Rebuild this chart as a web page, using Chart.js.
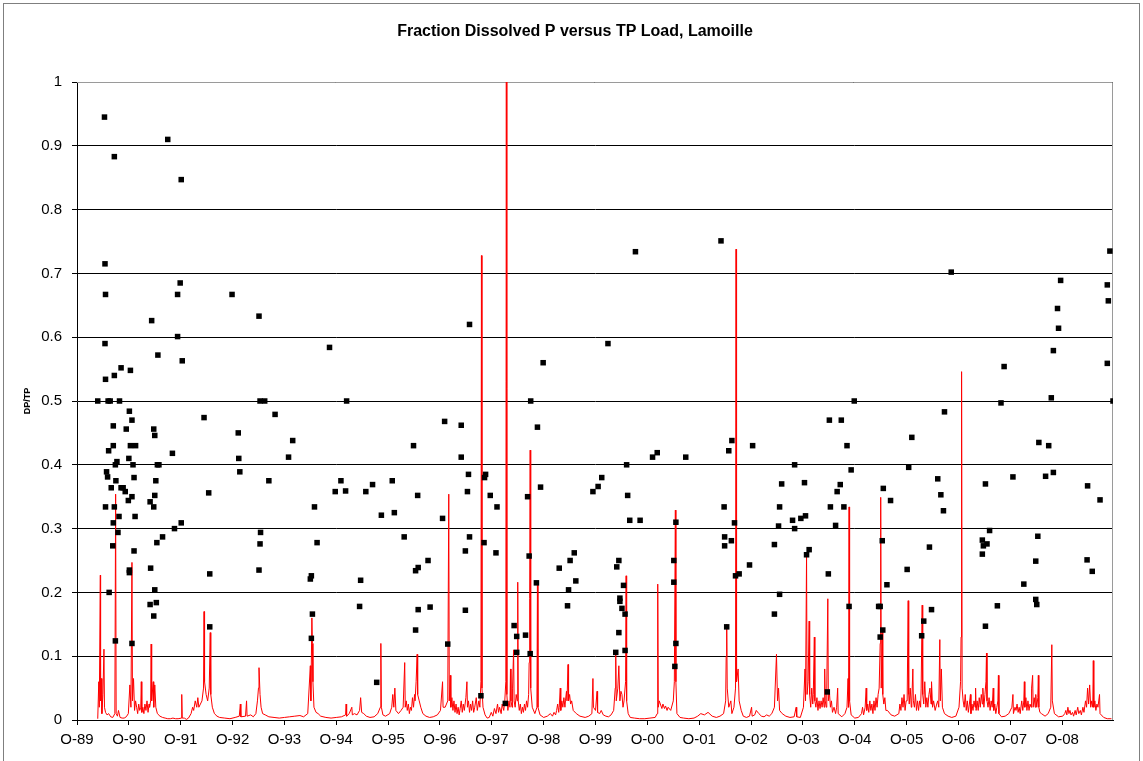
<!DOCTYPE html>
<html>
<head>
<meta charset="utf-8">
<title>Fraction Dissolved P versus TP Load, Lamoille</title>
<script src="https://cdn.jsdelivr.net/npm/chart.js@4.4.1/dist/chart.umd.min.js"></script>
<style>
  html, body { margin: 0; padding: 0; background: #fff; }
  #wrap { width: 1143px; height: 761px; }
</style>
</head>
<body>
<div id="wrap"><canvas id="chart" width="1143" height="761"></canvas></div>
<script>
// x axis: water years, tick at each October 1st (decimal year)
const tickLabels = ['O-89', 'O-90', 'O-91', 'O-92', 'O-93', 'O-94', 'O-95', 'O-96', 'O-97', 'O-98',
  'O-99', 'O-00', 'O-01', 'O-02', 'O-03', 'O-04', 'O-05', 'O-06', 'O-07', 'O-08'];
const tickYears = [1989.75, 1990.75, 1991.75, 1992.75, 1993.75, 1994.75, 1995.75, 1996.75, 1997.75, 1998.75,
  1999.75, 2000.75, 2001.75, 2002.75, 2003.75, 2004.75, 2005.75, 2006.75, 2007.75, 2008.75];
const yTickLabels = ['0', '0.1', '0.2', '0.3', '0.4', '0.5', '0.6', '0.7', '0.8', '0.9', '1'];

// DP/TP samples [decimal year, ratio]
const dpTp = [
  [1990.28,0.945],[1991.50,0.910],[1990.47,0.883],[1991.76,0.847],[1990.29,0.715],[1991.74,0.685],[1990.30,0.667],
  [1991.69,0.667],[1992.74,0.667],[1991.19,0.626],[1990.29,0.590],[1991.69,0.601],[1991.31,0.572],[1991.78,0.563],
  [1990.60,0.552],[1990.47,0.540],[1990.78,0.548],[1990.30,0.534],[1990.15,0.5],[1990.35,0.5],[1990.39,0.5],
  [1990.57,0.5],[1990.76,0.484],[1990.81,0.470],[1992.20,0.474],[1990.45,0.461],[1990.70,0.456],[1991.23,0.456],
  [1991.25,0.446],[1992.86,0.450],[1990.45,0.430],[1990.78,0.430],[1990.88,0.430],[1990.36,0.422],[1991.59,0.418],
  [1990.75,0.410],[1990.52,0.405],[1990.49,0.400],[1990.83,0.400],[1991.30,0.400],[1991.33,0.400],[1992.87,0.410],
  [1990.32,0.389],[1990.34,0.381],[1992.89,0.389],[1990.50,0.375],[1990.85,0.380],[1991.27,0.375],[1990.41,0.364],
  [1990.60,0.364],[1990.64,0.364],[1990.68,0.358],[1990.81,0.350],[1990.74,0.344],[1991.25,0.352],[1991.16,0.342],
  [1991.23,0.334],[1992.29,0.356],[1990.30,0.334],[1990.47,0.334],[1990.56,0.319],[1990.87,0.319],[1990.45,0.309],
  [1991.76,0.309],[1991.63,0.300],[1990.54,0.294],[1991.40,0.287],[1991.29,0.278],[1990.44,0.273],[1990.85,0.265],
  [1990.76,0.235],[1990.76,0.231],[1991.17,0.238],[1992.31,0.229],[1990.37,0.200],[1991.25,0.204],[1991.16,0.181],
  [1991.28,0.184],[1991.23,0.163],[1992.31,0.146],[1990.49,0.124],[1990.81,0.120],
  [1993.26,0.633],[1994.62,0.584],[1993.28,0.5],[1993.37,0.5],[1994.95,0.5],[1993.57,0.479],[1993.91,0.438],
  [1993.83,0.412],[1996.24,0.430],[1993.45,0.375],[1994.84,0.375],[1994.73,0.358],[1994.93,0.359],[1995.32,0.358],
  [1995.45,0.369],[1995.83,0.375],[1996.32,0.352],[1994.33,0.334],[1995.62,0.321],[1995.87,0.325],[1993.29,0.294],
  [1993.28,0.276],[1994.38,0.278],[1996.06,0.287],[1993.26,0.235],[1994.27,0.226],[1994.25,0.221],[1995.22,0.219],
  [1996.28,0.234],[1996.33,0.239],[1995.20,0.178],[1994.29,0.166],[1996.33,0.173],[1994.27,0.128],[1996.28,0.141],
  [1995.53,0.059],
  [1997.32,0.620],[1998.74,0.560],[1998.50,0.5],[1996.84,0.468],[1997.16,0.462],[1998.63,0.459],[1997.16,0.412],
  [1997.30,0.385],[1997.63,0.385],[1997.61,0.380],[1997.28,0.358],[1997.72,0.352],[1997.85,0.334],[1998.69,0.365],
  [1998.44,0.350],[1999.70,0.358],[1999.80,0.366],[1999.87,0.380],[1996.80,0.316],[1997.32,0.287],[1997.24,0.265],
  [1997.60,0.278],[1997.83,0.262],[1996.52,0.25],[1998.47,0.257],[1998.61,0.215],[1999.05,0.238],[1999.26,0.25],
  [1999.34,0.262],[1999.37,0.218],[1999.23,0.204],[1996.56,0.177],[1997.24,0.172],[1999.21,0.179],[1998.18,0.148],
  [1998.23,0.131],[1998.40,0.133],[1998.23,0.106],[1998.49,0.104],[1996.90,0.119],[1997.54,0.038],[1998.01,0.026],
  [2002.17,0.751],[2000.52,0.734],[1999.99,0.590],[2000.35,0.400],[2000.85,0.412],[2000.94,0.419],[2001.49,0.412],
  [2002.38,0.438],[2002.32,0.422],[2002.78,0.430],[2000.37,0.352],[2000.41,0.313],[2000.61,0.313],[2001.30,0.310],
  [2002.23,0.334],[2002.43,0.309],[2000.20,0.25],[2000.16,0.240],[2001.26,0.25],[2002.24,0.287],[2002.37,0.281],
  [2002.24,0.273],[2003.20,0.275],[2002.72,0.243],[2000.29,0.211],[2001.26,0.216],[2002.45,0.226],[2002.52,0.229],
  [2000.22,0.191],[2000.22,0.186],[2000.26,0.175],[2000.32,0.166],[2003.20,0.166],[2000.20,0.137],[2002.28,0.146],
  [2000.14,0.106],[2000.32,0.109],[2001.30,0.120],[2001.28,0.084],
  [2004.74,0.5],[2006.48,0.483],[2004.26,0.470],[2004.49,0.470],[2004.60,0.430],[2005.85,0.443],[2004.68,0.392],
  [2003.59,0.400],[2005.79,0.396],[2003.34,0.370],[2003.78,0.372],[2004.47,0.369],[2004.41,0.358],[2005.30,0.363],
  [2006.35,0.378],[2006.41,0.353],[2005.44,0.344],[2006.46,0.328],[2003.30,0.334],[2004.28,0.334],[2004.54,0.334],
  [2003.55,0.313],[2003.71,0.316],[2003.80,0.320],[2003.28,0.304],[2003.59,0.300],[2004.38,0.305],[2003.87,0.267],
  [2003.82,0.259],[2005.28,0.281],[2006.19,0.271],[2004.24,0.229],[2005.76,0.236],[2005.37,0.212],[2003.30,0.197],
  [2004.64,0.178],[2005.21,0.178],[2005.24,0.178],[2006.23,0.173],[2006.08,0.155],[2005.29,0.141],[2005.24,0.130],
  [2006.04,0.132],[2004.22,0.044],
  [2009.67,0.735],[2006.61,0.702],[2008.72,0.689],[2009.62,0.682],[2009.64,0.657],[2008.66,0.645],[2008.68,0.614],
  [2008.58,0.579],[2007.63,0.554],[2009.62,0.559],[2008.54,0.505],[2007.57,0.497],[2009.73,0.5],[2008.30,0.435],
  [2008.49,0.430],[2007.80,0.381],[2007.27,0.370],[2008.43,0.382],[2008.58,0.388],[2009.24,0.367],[2009.48,0.345],
  [2007.35,0.297],[2008.28,0.288],[2007.21,0.282],[2007.30,0.276],[2007.23,0.273],[2007.21,0.260],[2008.24,0.249],
  [2009.23,0.251],[2009.33,0.233],[2008.01,0.213],[2008.24,0.189],[2008.26,0.181],[2007.50,0.179],[2007.27,0.147]
];

// normalised daily TP load [decimal year, value]
const tpLoad = [
  [1990.15,0.002],[1990.17,0.06],[1990.18,0.02],[1990.2,0.227],[1990.205,0.03],[1990.22,0.065],[1990.23,0.01],
  [1990.25,0.04],[1990.27,0.111],[1990.28,0.02],[1990.3,0.012],[1990.33,0.008],[1990.36,0.01],[1990.4,0.005],
  [1990.44,0.004],[1990.48,0.01],[1990.495,0.354],[1990.505,0.01],[1990.53,0.006],[1990.55,0.015],[1990.58,0.004],
  [1990.62,0.003],[1990.66,0.003],[1990.7,0.005],[1990.74,0.01],[1990.77,0.055],[1990.79,0.02],[1990.81,0.247],
  [1990.82,0.03],[1990.84,0.065],[1990.86,0.015],[1990.88,0.03],[1990.9,0.02],[1990.92,0.01],[1990.94,0.025],
  [1990.96,0.015],[1990.98,0.02],[1990.99,0.06],[1991.0,0.012],[1991.02,0.02],[1991.04,0.01],[1991.06,0.025],
  [1991.08,0.015],[1991.1,0.03],[1991.12,0.012],[1991.14,0.025],[1991.15,0.02],[1991.17,0.03],[1991.18,0.119],
  [1991.19,0.03],[1991.22,0.06],[1991.23,0.02],[1991.25,0.055],[1991.27,0.02],[1991.3,0.01],[1991.35,0.006],
  [1991.4,0.004],[1991.45,0.003],[1991.5,0.002],[1991.55,0.002],[1991.6,0.003],[1991.65,0.002],[1991.7,0.002],
  [1991.765,0.003],[1991.77,0.04],[1991.78,0.003],[1991.82,0.003],[1991.86,0.001],[1991.9,0.003],[1991.95,0.01],
  [1991.98,0.02],[1992.0,0.015],[1992.03,0.03],[1992.06,0.02],[1992.08,0.035],[1992.1,0.02],[1992.13,0.025],
  [1992.16,0.03],[1992.19,0.05],[1992.2,0.17],[1992.21,0.06],[1992.24,0.04],[1992.27,0.03],[1992.3,0.05],
  [1992.32,0.137],[1992.33,0.04],[1992.36,0.02],[1992.4,0.01],[1992.45,0.006],[1992.5,0.004],[1992.6,0.003],
  [1992.7,0.002],[1992.8,0.004],[1992.88,0.006],[1992.9,0.025],[1992.91,0.005],[1993.0,0.006],[1993.02,0.03],
  [1993.03,0.006],[1993.1,0.008],[1993.15,0.005],[1993.2,0.01],[1993.23,0.03],[1993.25,0.05],[1993.26,0.082],
  [1993.28,0.04],[1993.3,0.02],[1993.33,0.01],[1993.38,0.008],[1993.45,0.005],[1993.55,0.004],[1993.65,0.003],
  [1993.75,0.004],[1993.85,0.005],[1993.95,0.006],[1994.05,0.007],[1994.12,0.005],[1994.2,0.01],[1994.25,0.085],
  [1994.26,0.03],[1994.28,0.16],[1994.29,0.12],[1994.3,0.06],[1994.32,0.02],[1994.36,0.012],[1994.4,0.01],
  [1994.45,0.006],[1994.55,0.004],[1994.65,0.003],[1994.75,0.004],[1994.85,0.005],[1994.93,0.008],[1994.94,0.025],
  [1994.95,0.006],[1995.0,0.01],[1995.05,0.02],[1995.06,0.008],[1995.1,0.01],[1995.15,0.008],[1995.2,0.015],
  [1995.22,0.035],[1995.24,0.012],[1995.28,0.01],[1995.33,0.006],[1995.4,0.004],[1995.48,0.005],[1995.55,0.01],
  [1995.6,0.02],[1995.61,0.12],[1995.62,0.02],[1995.65,0.008],[1995.7,0.006],[1995.78,0.01],[1995.82,0.02],
  [1995.84,0.04],[1995.86,0.02],[1995.88,0.05],[1995.9,0.015],[1995.95,0.01],[1996.0,0.015],[1996.04,0.02],
  [1996.07,0.09],[1996.08,0.02],[1996.1,0.03],[1996.12,0.015],[1996.14,0.025],[1996.16,0.01],[1996.18,0.02],
  [1996.2,0.015],[1996.22,0.035],[1996.24,0.02],[1996.26,0.04],[1996.27,0.03],[1996.29,0.06],[1996.31,0.103],
  [1996.32,0.04],[1996.35,0.03],[1996.38,0.02],[1996.42,0.01],[1996.48,0.006],[1996.55,0.004],[1996.62,0.005],
  [1996.7,0.008],[1996.76,0.015],[1996.8,0.06],[1996.81,0.02],[1996.85,0.02],[1996.9,0.03],[1996.92,0.354],
  [1996.93,0.03],[1996.95,0.07],[1996.96,0.02],[1996.98,0.035],[1997.0,0.015],[1997.02,0.03],[1997.04,0.012],
  [1997.06,0.025],[1997.08,0.01],[1997.1,0.02],[1997.12,0.008],[1997.14,0.018],[1997.16,0.03],[1997.18,0.012],
  [1997.2,0.025],[1997.22,0.015],[1997.25,0.035],[1997.27,0.06],[1997.28,0.02],[1997.3,0.03],[1997.32,0.012],
  [1997.34,0.025],[1997.36,0.015],[1997.38,0.03],[1997.4,0.012],[1997.42,0.02],[1997.45,0.035],[1997.47,0.015],
  [1997.5,0.03],[1997.52,0.02],[1997.54,0.06],[1997.55,0.728],[1997.56,0.05],[1997.58,0.02],[1997.62,0.008],
  [1997.66,0.003],[1997.7,0.004],[1997.74,0.012],[1997.77,0.006],[1997.8,0.018],[1997.83,0.01],[1997.86,0.025],
  [1997.88,0.012],[1997.9,0.02],[1997.93,0.01],[1997.95,0.025],[1997.98,0.015],[1998.0,0.03],[1998.02,0.06],
  [1998.03,1.0],[1998.04,0.04],[1998.06,0.015],[1998.08,0.03],[1998.1,0.02],[1998.11,0.08],[1998.12,0.03],
  [1998.14,0.02],[1998.15,0.05],[1998.17,0.11],[1998.18,0.03],[1998.2,0.02],[1998.22,0.04],[1998.24,0.03],
  [1998.25,0.216],[1998.26,0.03],[1998.28,0.015],[1998.3,0.025],[1998.32,0.01],[1998.34,0.02],[1998.36,0.012],
  [1998.38,0.025],[1998.4,0.015],[1998.42,0.03],[1998.44,0.02],[1998.46,0.04],[1998.47,0.09],[1998.48,0.19],
  [1998.49,0.423],[1998.5,0.05],[1998.53,0.02],[1998.58,0.01],[1998.62,0.02],[1998.63,0.217],[1998.64,0.02],
  [1998.68,0.008],[1998.75,0.004],[1998.82,0.006],[1998.88,0.01],[1998.92,0.006],[1998.95,0.012],[1998.98,0.008],
  [1999.0,0.015],[1999.02,0.025],[1999.04,0.012],[1999.05,0.02],[1999.07,0.05],[1999.08,0.015],[1999.1,0.03],
  [1999.12,0.02],[1999.14,0.035],[1999.16,0.02],[1999.17,0.03],[1999.19,0.045],[1999.2,0.03],[1999.22,0.087],
  [1999.23,0.03],[1999.25,0.04],[1999.27,0.025],[1999.29,0.03],[1999.32,0.015],[1999.38,0.01],[1999.45,0.006],
  [1999.55,0.004],[1999.62,0.006],[1999.68,0.01],[1999.7,0.065],[1999.71,0.02],[1999.75,0.015],[1999.78,0.045],
  [1999.79,0.012],[1999.83,0.01],[1999.86,0.015],[1999.9,0.008],[1999.95,0.006],[2000.0,0.005],[2000.05,0.008],
  [2000.1,0.015],[2000.13,0.05],[2000.14,0.105],[2000.15,0.03],[2000.18,0.05],[2000.2,0.085],[2000.22,0.03],
  [2000.24,0.045],[2000.26,0.04],[2000.28,0.02],[2000.3,0.03],[2000.33,0.06],[2000.34,0.226],[2000.35,0.03],
  [2000.38,0.01],[2000.42,0.004],[2000.5,0.003],[2000.6,0.002],[2000.7,0.002],[2000.8,0.003],[2000.9,0.004],
  [2000.94,0.01],[2000.95,0.213],[2000.96,0.02],[2000.98,0.03],[2001.0,0.025],[2001.03,0.018],[2001.05,0.025],
  [2001.08,0.018],[2001.1,0.022],[2001.13,0.015],[2001.15,0.02],[2001.2,0.015],[2001.25,0.03],[2001.27,0.06],
  [2001.29,0.329],[2001.3,0.06],[2001.32,0.01],[2001.38,0.004],[2001.45,0.003],[2001.55,0.002],[2001.65,0.003],
  [2001.72,0.006],[2001.78,0.01],[2001.85,0.008],[2001.92,0.012],[2002.0,0.006],[2002.08,0.004],[2002.15,0.006],
  [2002.22,0.01],[2002.26,0.03],[2002.27,0.1],[2002.28,0.15],[2002.29,0.05],[2002.32,0.02],[2002.36,0.03],
  [2002.38,0.01],[2002.42,0.02],[2002.45,0.05],[2002.46,0.738],[2002.47,0.06],[2002.5,0.08],[2002.52,0.03],
  [2002.56,0.015],[2002.6,0.006],[2002.66,0.004],[2002.72,0.006],[2002.76,0.02],[2002.77,0.006],[2002.82,0.008],
  [2002.85,0.015],[2002.9,0.01],[2002.95,0.006],[2003.0,0.005],[2003.05,0.008],[2003.1,0.006],[2003.15,0.01],
  [2003.2,0.02],[2003.24,0.103],[2003.26,0.03],[2003.28,0.05],[2003.3,0.015],[2003.35,0.01],[2003.42,0.006],
  [2003.5,0.004],[2003.58,0.005],[2003.62,0.02],[2003.63,0.005],[2003.7,0.004],[2003.76,0.02],[2003.79,0.08],
  [2003.8,0.03],[2003.82,0.259],[2003.83,0.04],[2003.85,0.06],[2003.87,0.155],[2003.88,0.04],[2003.9,0.02],
  [2003.92,0.05],[2003.94,0.025],[2003.95,0.04],[2003.97,0.13],[2003.98,0.03],[2004.0,0.02],[2004.02,0.035],
  [2004.04,0.015],[2004.06,0.03],[2004.08,0.018],[2004.1,0.03],[2004.12,0.02],[2004.14,0.035],[2004.16,0.02],
  [2004.17,0.08],[2004.18,0.03],[2004.2,0.02],[2004.21,0.05],[2004.23,0.19],[2004.24,0.03],[2004.26,0.045],
  [2004.28,0.02],[2004.3,0.03],[2004.32,0.012],[2004.35,0.02],[2004.38,0.01],[2004.4,0.02],[2004.42,0.05],
  [2004.43,0.01],[2004.5,0.005],[2004.56,0.01],[2004.6,0.02],[2004.62,0.065],[2004.63,0.02],[2004.64,0.334],
  [2004.65,0.03],[2004.68,0.008],[2004.75,0.003],[2004.82,0.004],[2004.88,0.01],[2004.9,0.02],[2004.92,0.008],
  [2004.95,0.02],[2004.97,0.05],[2004.98,0.015],[2005.0,0.025],[2005.02,0.012],[2005.04,0.03],[2005.06,0.015],
  [2005.08,0.025],[2005.1,0.01],[2005.12,0.03],[2005.14,0.015],[2005.16,0.035],[2005.18,0.02],[2005.2,0.04],
  [2005.22,0.05],[2005.24,0.12],[2005.25,0.349],[2005.26,0.05],[2005.28,0.14],[2005.29,0.04],[2005.31,0.025],
  [2005.33,0.035],[2005.35,0.015],[2005.38,0.015],[2005.45,0.008],[2005.52,0.006],[2005.6,0.01],[2005.62,0.025],
  [2005.64,0.015],[2005.66,0.035],[2005.68,0.02],[2005.7,0.04],[2005.72,0.015],[2005.74,0.03],[2005.76,0.03],
  [2005.78,0.187],[2005.79,0.04],[2005.8,0.025],[2005.82,0.05],[2005.84,0.02],[2005.85,0.03],[2005.87,0.08],
  [2005.88,0.03],[2005.9,0.02],[2005.92,0.04],[2005.94,0.015],[2005.96,0.03],[2005.98,0.015],[2006.0,0.03],
  [2006.02,0.02],[2006.03,0.05],[2006.05,0.18],[2006.06,0.04],[2006.08,0.025],[2006.1,0.06],[2006.12,0.02],
  [2006.14,0.035],[2006.16,0.02],[2006.18,0.04],[2006.2,0.05],[2006.22,0.025],[2006.23,0.06],[2006.25,0.02],
  [2006.27,0.03],[2006.3,0.015],[2006.33,0.025],[2006.35,0.03],[2006.37,0.02],[2006.39,0.126],[2006.4,0.03],
  [2006.42,0.08],[2006.44,0.02],[2006.48,0.01],[2006.55,0.006],[2006.62,0.004],[2006.7,0.006],[2006.76,0.02],
  [2006.79,0.06],[2006.8,0.13],[2006.81,0.546],[2006.82,0.05],[2006.84,0.03],[2006.86,0.02],[2006.88,0.04],
  [2006.9,0.015],[2006.92,0.03],[2006.94,0.012],[2006.96,0.025],[2006.98,0.04],[2006.99,0.01],[2007.01,0.025],
  [2007.03,0.015],[2007.05,0.03],[2007.07,0.02],[2007.08,0.05],[2007.09,0.015],[2007.11,0.03],[2007.13,0.015],
  [2007.15,0.035],[2007.17,0.02],[2007.19,0.04],[2007.21,0.025],[2007.22,0.05],[2007.24,0.02],[2007.26,0.04],
  [2007.28,0.06],[2007.29,0.105],[2007.3,0.03],[2007.32,0.02],[2007.34,0.035],[2007.36,0.015],[2007.38,0.03],
  [2007.4,0.02],[2007.42,0.05],[2007.43,0.015],[2007.45,0.025],[2007.47,0.01],[2007.49,0.02],[2007.51,0.03],
  [2007.52,0.07],[2007.53,0.01],[2007.58,0.005],[2007.65,0.006],[2007.72,0.01],[2007.78,0.02],[2007.8,0.04],
  [2007.81,0.01],[2007.84,0.02],[2007.86,0.015],[2007.88,0.025],[2007.9,0.012],[2007.92,0.02],[2007.94,0.01],
  [2007.97,0.03],[2007.99,0.015],[2008.01,0.03],[2008.02,0.06],[2008.03,0.02],[2008.05,0.035],[2008.07,0.015],
  [2008.09,0.03],[2008.11,0.015],[2008.13,0.025],[2008.15,0.02],[2008.16,0.05],[2008.18,0.07],[2008.19,0.02],
  [2008.21,0.035],[2008.23,0.02],[2008.24,0.04],[2008.26,0.02],[2008.28,0.035],[2008.29,0.07],[2008.3,0.02],
  [2008.32,0.012],[2008.35,0.01],[2008.42,0.006],[2008.48,0.01],[2008.53,0.02],[2008.55,0.118],[2008.56,0.03],
  [2008.6,0.01],[2008.68,0.005],[2008.76,0.006],[2008.8,0.01],[2008.82,0.015],[2008.84,0.008],[2008.86,0.02],
  [2008.88,0.01],[2008.9,0.015],[2008.92,0.008],[2008.95,0.012],[2008.97,0.006],[2009.0,0.015],[2009.02,0.008],
  [2009.05,0.02],[2009.07,0.01],[2009.1,0.015],[2009.12,0.008],[2009.15,0.02],[2009.17,0.012],[2009.2,0.03],
  [2009.22,0.02],[2009.24,0.05],[2009.26,0.025],[2009.28,0.055],[2009.3,0.02],[2009.32,0.03],[2009.34,0.02],
  [2009.35,0.093],[2009.36,0.02],[2009.38,0.03],[2009.4,0.015],[2009.42,0.025],[2009.44,0.02],[2009.47,0.04],
  [2009.48,0.01],[2009.55,0.004],[2009.62,0.002],[2009.7,0.002]
];

const FONT = "'Liberation Sans', Arial, sans-serif";

const framePlugin = {
  id: 'frame',
  beforeDraw(chart) {
    const ctx = chart.ctx;
    ctx.save();
    ctx.fillStyle = '#fff';
    ctx.fillRect(0, 0, chart.width, chart.height);
    ctx.strokeStyle = '#7f7f7f';
    ctx.lineWidth = 1;
    ctx.strokeRect(3.5, 3.5, 1136, 790);
    ctx.restore();
  },
  beforeDatasetsDraw(chart) {
    // grey top and right edges of the plot area
    const { ctx, chartArea: a } = chart;
    ctx.save();
    ctx.strokeStyle = '#9a9a9a';
    ctx.lineWidth = 1;
    ctx.beginPath();
    ctx.moveTo(a.left, a.top + 0.5);
    ctx.lineTo(a.right - 0.5, a.top + 0.5);
    ctx.lineTo(a.right - 0.5, a.bottom);
    ctx.stroke();
    ctx.restore();
  }
};

new Chart(document.getElementById('chart'), {
  type: 'scatter',
  data: {
    datasets: [
      {
        label: 'DP/TP',
        data: dpTp.map(p => ({ x: p[0], y: p[1] })),
        pointStyle: 'rect',
        pointRadius: 3.9,
        backgroundColor: '#000',
        borderWidth: 0,
        order: 1
      },
      {
        label: 'TP load',
        data: tpLoad.map(p => ({ x: p[0], y: p[1] })),
        showLine: true,
        borderColor: '#ff0000',
        borderWidth: 1,
        pointRadius: 0,
        tension: 0,
        order: 2
      }
    ]
  },
  options: {
    responsive: false,
    animation: false,
    devicePixelRatio: 1,
    events: [],
    // left padding + right spacer axis keep the title centred on the page
    layout: { padding: { left: 7, right: 0, top: 0, bottom: 0 } },
    plugins: {
      legend: { display: false },
      tooltip: { enabled: false },
      title: {
        display: true,
        text: 'Fraction Dissolved P versus TP Load, Lamoille',
        color: '#000',
        font: { family: FONT, size: 16, weight: 'bold' },
        padding: { top: 22, bottom: 40.8 }
      }
    },
    scales: {
      x: {
        type: 'linear',
        min: 1989.75,
        max: 2009.73,
        afterFit: (s) => { s.height = 41; },
        afterBuildTicks: (axis) => { axis.ticks = tickYears.map(v => ({ value: v })); },
        grid: { drawOnChartArea: false, drawTicks: true, tickLength: 5, color: '#000' },
        border: { display: true, color: '#000' },
        ticks: {
          autoSkip: false,
          maxRotation: 0,
          padding: 6,
          color: '#000',
          font: { family: FONT, size: 15 },
          callback: (v, i) => tickLabels[i]
        }
      },
      y: {
        min: 0,
        max: 1,
        afterFit: (s) => { s.width = 70; },
        grid: { color: '#000', tickLength: 5 },
        border: { display: true, color: '#000' },
        ticks: {
          stepSize: 0.1,
          padding: 10,
          color: '#000',
          font: { family: FONT, size: 15 },
          callback: (v, i) => yTickLabels[i]
        },
        title: {
          display: true,
          text: 'DP/TP',
          color: '#000',
          font: { family: FONT, size: 9, weight: 'bold' },
          padding: { top: 15, bottom: 0 }
        }
      },
      spacer: {
        type: 'linear',
        position: 'right',
        min: 0,
        max: 1,
        afterFit: (s) => { s.width = 30; },
        grid: { display: false },
        border: { display: false },
        ticks: { display: false }
      }
    }
  },
  plugins: [framePlugin]
});
</script>
</body>
</html>
